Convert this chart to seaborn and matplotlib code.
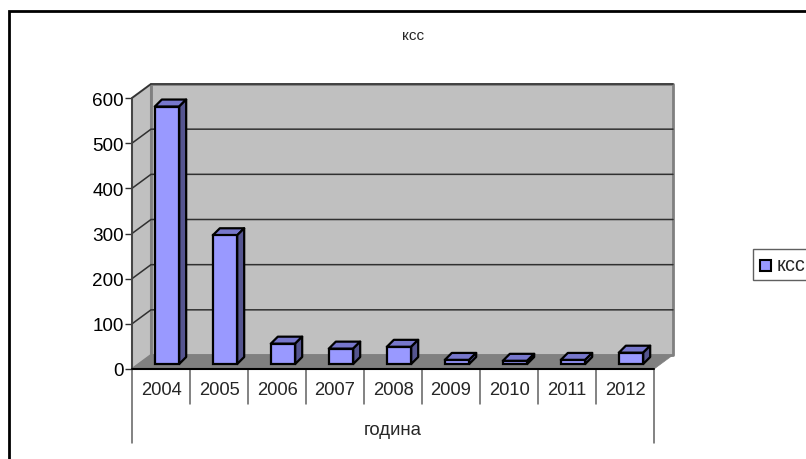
# КСС по години - Excel style 3D column chart redrawn with seaborn
import pandas as pd
import matplotlib.pyplot as plt
import seaborn as sns
from matplotlib.patches import Polygon, Rectangle

# ── Data ─────────────────────────────────────────────────────
years = ['2004', '2005', '2006', '2007', '2008', '2009', '2010', '2011', '2012']
kss = [570, 285, 45, 34, 38, 9, 7, 9, 25]
y_ticks = [0, 100, 200, 300, 400, 500, 600]
series_name = 'ксс'
axis_name = 'година'

# ── Style ────────────────────────────────────────────────────
sns.set_style('white')
plt.rcParams['font.family'] = ['Liberation Sans', 'DejaVu Sans']

W, H = 806, 460
FRONT = '#9999ff'
TOP = '#7777cc'
SIDE = '#555590'
WALL = '#c0c0c0'
FLOOR = '#808080'
EDGE = '#808080'

fig = plt.figure(figsize=(W / 100, H / 100), dpi=100)
fig.patch.set_facecolor('white')

# axes sit on the front plane of the fake 3D box
left, right, y_bot, y_top = 132, 654, 370, 99
ax = fig.add_axes([left / W, 1 - y_bot / H, (right - left) / W, (y_bot - y_top) / H])
ax.patch.set_alpha(0)

df = pd.DataFrame({'year': years, 'kss': kss})
sns.barplot(data=df, x='year', y='kss', ax=ax, color=FRONT, saturation=1,
            width=0.42, edgecolor='black', linewidth=1.6, zorder=5)
ax.set_xlim(-0.5, 8.5)
ax.set_ylim(0, 600)

# pixel sizes -> data units
px_x = 9 / (right - left)
px_y = 600 / (y_bot - y_top)
wall_dx, wall_dy = 19 * px_x, 14 * px_y
bar_dx, bar_dy = 6 * px_x, 5 * px_y
depth_x, depth_y = 7 * px_x, 7 * px_y


def poly(points, face, edge=None, lw=0, z=1):
    ax.add_patch(Polygon(points, closed=True, facecolor=face, edgecolor=edge or face,
                         linewidth=lw, zorder=z, clip_on=False, joinstyle='round'))


x0, x1 = -0.5, 8.5
top = 600
# back wall, side wall, floor
poly([(x0 + wall_dx, wall_dy), (x1 + wall_dx, wall_dy), (x1 + wall_dx, top + wall_dy),
      (x0 + wall_dx, top + wall_dy)], WALL, EDGE, 2, 1)
poly([(x0, 0), (x0 + wall_dx, wall_dy), (x0 + wall_dx, top + wall_dy), (x0, top)], WALL, EDGE, 1.5, 1)
poly([(x0, 0), (x1, 0), (x1 + wall_dx, wall_dy), (x0 + wall_dx, wall_dy)], FLOOR, FLOOR, 0.5, 2)

# gridlines run across the side wall and the back wall
for t in y_ticks[1:]:
    ax.plot([x0, x0 + wall_dx, x1 + wall_dx], [t, t + wall_dy, t + wall_dy],
            color='#303030', lw=1.1, zorder=3, clip_on=False, solid_joinstyle='miter')

# shift bars onto the floor and give them top + side faces
for bar in ax.patches:
    if not isinstance(bar, Rectangle):
        continue
    bar.set_x(bar.get_x() + bar_dx)
    bar.set_y(bar_dy)
    bar.set_clip_on(False)
    bx, bw, bh = bar.get_x(), bar.get_width(), bar.get_height() + bar_dy
    poly([(bx, bh), (bx + bw, bh), (bx + bw + depth_x, bh + depth_y), (bx + depth_x, bh + depth_y)],
         TOP, 'black', 1.6, 4)
    poly([(bx + bw, bar_dy), (bx + bw + depth_x, bar_dy + depth_y),
          (bx + bw + depth_x, bh + depth_y), (bx + bw, bh)], SIDE, 'black', 1.6, 4)

# value axis
ax.set_yticks(y_ticks)
ax.set_yticklabels([str(t) for t in y_ticks], fontsize=13.6, color='black')
ax.tick_params(axis='y', length=5, width=1, color='#303030', pad=1, left=True)
ax.set_xticks([])
ax.set_xlabel('')
ax.set_ylabel('')
for s in ['top', 'right', 'bottom', 'left']:
    ax.spines[s].set_visible(False)
ax.plot([x0, x0], [0, top], color='#404040', lw=1.3, zorder=6, clip_on=False)
ax.plot([x0, x1], [0, 0], color='black', lw=1.5, zorder=6, clip_on=False)

# category table under the axis
trans = ax.get_xaxis_transform()
span = y_bot - y_top
row1, row2 = -35 / span, -74 / span
for i, year in enumerate(years):
    ax.text(i, -21 / span, year, transform=trans, ha='center', va='center', fontsize=13.2)
    if i > 0:
        ax.plot([i - 0.5, i - 0.5], [0, row1], transform=trans, color='#606060', lw=1.1, clip_on=False)
for x in [x0, x1]:
    ax.plot([x, x], [0, row2], transform=trans, color='#606060', lw=1.1, clip_on=False)
ax.text(4, -61 / span, axis_name, transform=trans, ha='center', va='center', fontsize=13.4)

# chart area frame, title and legend in pixel coords
over = fig.add_axes([0, 0, 1, 1], zorder=10)
over.set_xlim(0, W)
over.set_ylim(H, 0)
over.axis('off')
over.plot([8.5, 8.5, W], [H, 11.5, 11.5], color='black', lw=2, solid_joinstyle='miter')
over.text(413, 36, series_name, ha='center', va='center', fontsize=11)
over.add_patch(Rectangle((752.5, 249.5), 60, 31, facecolor='white', edgecolor='#606060', lw=1, clip_on=True))
over.add_patch(Rectangle((759.5, 261), 11, 10.5, facecolor=FRONT, edgecolor='black', lw=1.5))
over.text(777, 266, series_name, ha='left', va='center', fontsize=14.2)

fig.savefig('out.png', dpi=100)
plt.close(fig)
